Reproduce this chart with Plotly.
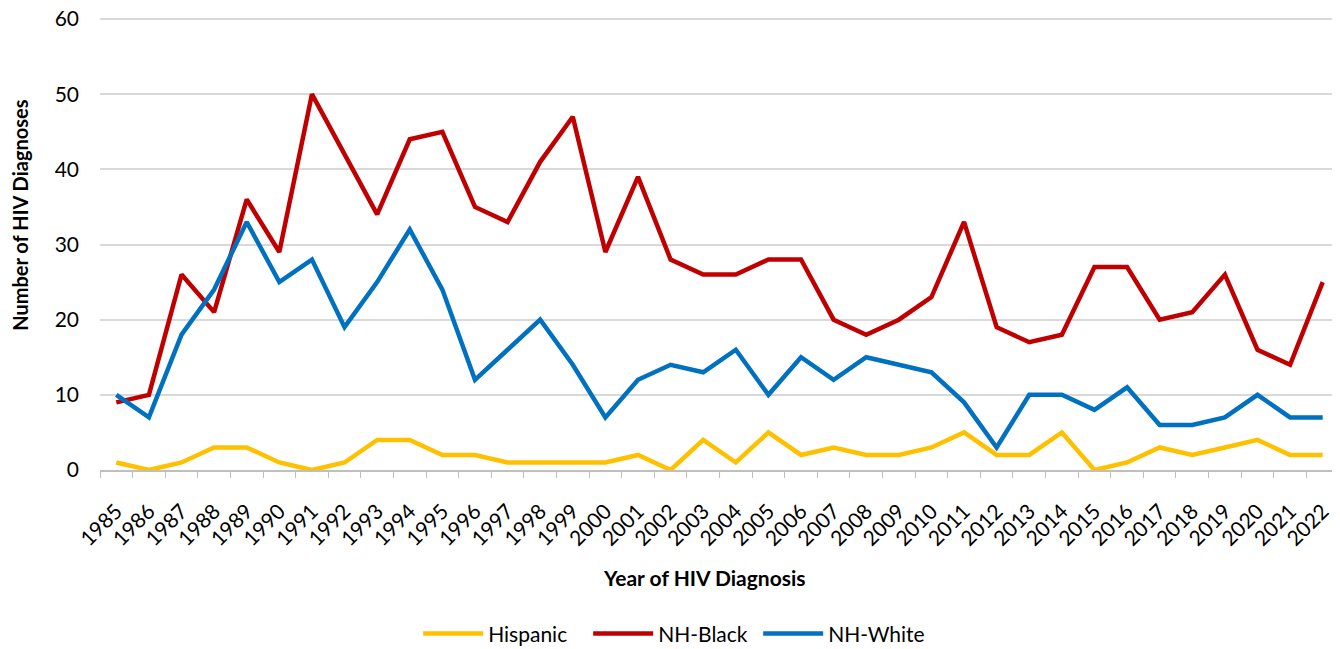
import plotly.graph_objects as go

years = [str(y) for y in range(1985, 2023)]
hispanic = [1, 0, 1, 3, 3, 1, 0, 1, 4, 4, 2, 2, 1, 1, 1, 1, 2, 0, 4, 1, 5, 2, 3, 2, 2, 3, 5, 2, 2, 5, 0, 1, 3, 2, 3, 4, 2, 2]
nh_black = [9, 10, 26, 21, 36, 29, 50, 42, 34, 44, 45, 35, 33, 41, 47, 29, 39, 28, 26, 26, 28, 28, 20, 18, 20, 23, 33, 19, 17, 18, 27, 27, 20, 21, 26, 16, 14, 25]
nh_white = [10, 7, 18, 24, 33, 25, 28, 19, 25, 32, 24, 12, 16, 20, 14, 7, 12, 14, 13, 16, 10, 15, 12, 15, 14, 13, 9, 3, 10, 10, 8, 11, 6, 6, 7, 10, 7, 7]
y_ticks = [0, 10, 20, 30, 40, 50, 60]

series = [("Hispanic", hispanic, "#FFC000"), ("NH-Black", nh_black, "#C00000"), ("NH-White", nh_white, "#0070C0")]

fig = go.Figure()
for name, vals, col in series:
    fig.add_trace(go.Scatter(x=years, y=vals, name=name, mode="lines",
                             line=dict(color=col, width=4.5)))

font = "Lato, 'Open Sans', sans-serif"
fig.update_layout(
    width=1332, height=649,
    margin=dict(l=92, r=1, t=8, b=187),
    plot_bgcolor="white", paper_bgcolor="white",
    font=dict(family=font, color="black", size=20),
    showlegend=True,
    legend=dict(orientation="h", x=0.2568, xanchor="left", y=-0.361, yanchor="middle",
                font=dict(size=21), traceorder="normal", entrywidth=95, itemwidth=60),
    xaxis=dict(type="category", range=[-0.5, len(years) - 0.5], tickangle=-45,
               tickfont=dict(size=21), ticklabelstandoff=19,
               showline=True, linecolor="#BFBFBF", linewidth=1.5,
               ticks="outside", tickson="boundaries", ticklen=6, tickcolor="#BFBFBF",
               showgrid=False, automargin=False),
    yaxis=dict(range=[0, 60.4], tickvals=y_ticks, showgrid=True,
               gridcolor="#D9D9D9", gridwidth=1.5,
               zeroline=False, tickfont=dict(size=21), ticks="", automargin=False,
               ticklabelstandoff=20, ticklabeloverflow="allow"),
    annotations=[
        dict(text="<b>Year of HIV Diagnosis</b>", xref="paper", yref="paper",
             x=0.488, y=-0.2378, xanchor="center", yanchor="middle",
             showarrow=False, font=dict(size=21)),
        dict(text="<b>Number of HIV Diagnoses</b>", xref="paper", yref="paper",
             x=-0.0646, y=0.562, xanchor="center", yanchor="middle", textangle=-90,
             showarrow=False, font=dict(size=20)),
    ],
)

fig.write_html("out.html")
